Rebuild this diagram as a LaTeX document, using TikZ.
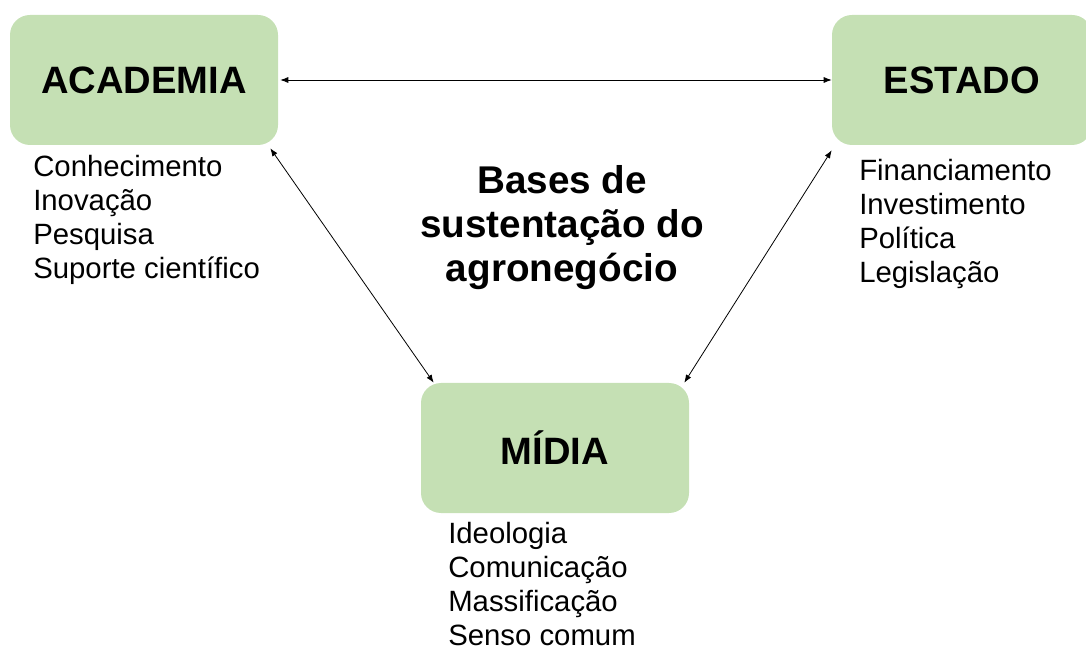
\documentclass[tikz,border=0pt]{standalone}
\usepackage{fontspec}
\setmainfont{Liberation Sans}
\usetikzlibrary{arrows.meta}
\definecolor{basegreen}{RGB}{197,224,180}

\begin{document}
\begin{tikzpicture}[x=0.75pt, y=-0.75pt,
    base/.style={fill=basegreen, rounded corners=15pt, minimum width=201pt, minimum height=97.5pt,
        font=\fontsize{28.6}{34}\selectfont\bfseries},
    items/.style={anchor=north west, inner sep=0pt, align=left, font=\fontsize{22}{25.5}\selectfont},
    link/.style={{Latex[length=6pt,width=4.5pt]}-{Latex[length=6pt,width=4.5pt]}, line width=0.6pt}]
    \useasboundingbox (0,0) rectangle (1086,652);

    % The three bases
    \node[base] (academia) at (144,80) {ACADEMIA};
    \node[base, minimum width=195pt] (estado) at (962,80) {ESTADO};
    \node[base] (midia) at (555,448) {MÍDIA};

    % Centre label
    \node[font=\fontsize{29}{33}\selectfont\bfseries, align=center, inner sep=0pt] (bases)
        at (562,228) {Bases de\\sustentação do\\agronegócio};

    % What each base gives
    \node[items] (academialist) at (33,155) {Conhecimento\\Inovação\\Pesquisa\\Suporte científico};
    \node[items] (estadolist) at (859,159) {Financiamento\\Investimento\\Política\\Legislação};
    \node[items] (midialist) at (448,522) {Ideologia\\Comunicação\\Massificação\\Senso comum};

    % Links between the bases
    \draw[link] ([xshift=1.5pt]academia.east) -- (estado.west);
    \draw[link] ([xshift=-6pt,yshift=-2.25pt]academia.south east) -- ([xshift=9.75pt]midia.north west);
    \draw[link] ([yshift=-3.75pt]estado.south west) -- ([xshift=-3.75pt]midia.north east);

\end{tikzpicture}
\end{document}
